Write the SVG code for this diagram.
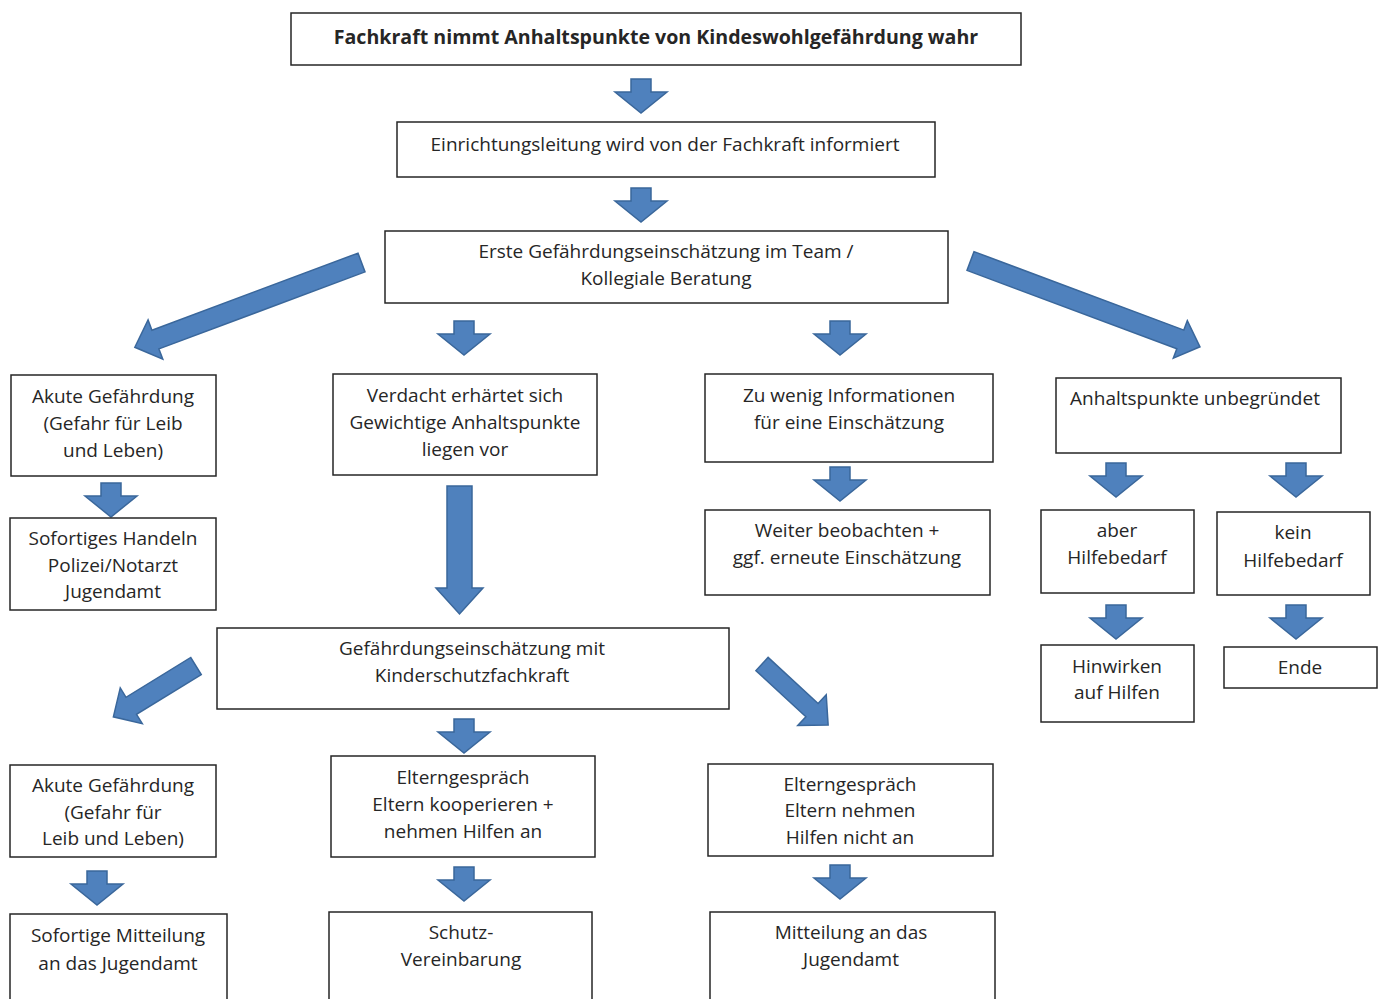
<svg xmlns="http://www.w3.org/2000/svg" width="1386" height="999" viewBox="0 0 1386 999">
<style>
.box{fill:#fff;stroke:#262626;stroke-width:1.5}
.t{font-family:"Open Sans",Lato,sans-serif;font-size:19px;fill:#262626;text-anchor:middle}
.b{font-weight:bold;font-size:19.6px}
.arr{fill:#4F81BD;stroke:#3A679B;stroke-width:1.5;stroke-linejoin:miter}
</style>
<rect width="1386" height="999" fill="#fff"/>
<g id="connectors">
<polygon class="arr" points="631,79 651,79 651,92 667,92 641,113 615,92 631,92"/>
<polygon class="arr" points="631,188 651,188 651,201 667,201 641,222 615,201 631,201"/>
<polygon class="arr" transform="translate(361.5,262.5) rotate(159.5)" points="0,-10 220,-10 220,-21 242,0 220,21 220,10 0,10"/>
<polygon class="arr" transform="translate(970.5,261) rotate(20.5)" points="0,-10 224,-10 224,-20 245,0 224,20 224,10 0,10"/>
<polygon class="arr" points="454,321 474,321 474,334 490,334 464,355 438,334 454,334"/>
<polygon class="arr" points="830,321 850,321 850,334 866,334 840,355 814,334 830,334"/>
<polygon class="arr" points="101,483 121,483 121,496 137,496 111,517 85,496 101,496"/>
<polygon class="arr" points="830,467 850,467 850,480 866,480 840,501 814,480 830,480"/>
<polygon class="arr" points="1106,463 1126,463 1126,476 1142,476 1116,497 1090,476 1106,476"/>
<polygon class="arr" points="1286,463 1306,463 1306,476 1322,476 1296,497 1270,476 1286,476"/>
<polygon class="arr" points="1106,605 1126,605 1126,618 1142,618 1116,639 1090,618 1106,618"/>
<polygon class="arr" points="1286,605 1306,605 1306,618 1322,618 1296,639 1270,618 1286,618"/>
<polygon class="arr" points="447,486 472,486 472,588 483,588 459.5,614 436,588 447,588"/>
<polygon class="arr" transform="translate(196,666) rotate(148.4)" points="0,-10 76,-10 76,-21 97,0 76,21 76,10 0,10"/>
<polygon class="arr" transform="translate(762,664) rotate(42.7)" points="0,-9 68,-9 68,-21 90,0 68,21 68,9 0,9"/>
<polygon class="arr" points="454,719 474,719 474,732 490,732 464,753 438,732 454,732"/>
<polygon class="arr" points="87,871 107,871 107,884 123,884 97,905 71,884 87,884"/>
<polygon class="arr" points="454,867 474,867 474,880 490,880 464,901 438,880 454,880"/>
<polygon class="arr" points="830,865 850,865 850,878 866,878 840,899 814,878 830,878"/>
</g>
<g id="n1"><rect class="box" x="291" y="13" width="730" height="52"/><text class="t b" x="656" y="44">Fachkraft nimmt Anhaltspunkte von Kindeswohlgefährdung wahr</text></g>
<g id="n2"><rect class="box" x="397" y="122" width="538" height="55"/><text class="t" x="665" y="151">Einrichtungsleitung wird von der Fachkraft informiert</text></g>
<g id="n3"><rect class="box" x="385" y="231" width="563" height="72"/><text class="t" x="666" y="258">Erste Gefährdungseinschätzung im Team /</text><text class="t" x="666" y="285">Kollegiale Beratung</text></g>
<g id="n4"><rect class="box" x="11" y="375" width="205" height="101"/><text class="t" x="113" y="403">Akute Gefährdung</text><text class="t" x="113" y="430">(Gefahr für Leib</text><text class="t" x="113" y="457">und Leben)</text></g>
<g id="n5"><rect class="box" x="333" y="374" width="264" height="101"/><text class="t" x="465" y="402">Verdacht erhärtet sich</text><text class="t" x="465" y="429">Gewichtige Anhaltspunkte</text><text class="t" x="465" y="456">liegen vor</text></g>
<g id="n6"><rect class="box" x="705" y="374" width="288" height="88"/><text class="t" x="849" y="402">Zu wenig Informationen</text><text class="t" x="849" y="429">für eine Einschätzung</text></g>
<g id="n7"><rect class="box" x="1056" y="378" width="285" height="75"/><text class="t" x="1195" y="405">Anhaltspunkte unbegründet</text></g>
<g id="n8"><rect class="box" x="10" y="518" width="206" height="92"/><text class="t" x="113" y="545">Sofortiges Handeln</text><text class="t" x="113" y="572">Polizei/Notarzt</text><text class="t" x="113" y="598">Jugendamt</text></g>
<g id="n9"><rect class="box" x="705" y="510" width="285" height="85"/><text class="t" x="847" y="537">Weiter beobachten +</text><text class="t" x="847" y="564">ggf. erneute Einschätzung</text></g>
<g id="n10"><rect class="box" x="1041" y="510" width="153" height="83"/><text class="t" x="1117" y="537">aber</text><text class="t" x="1117" y="564">Hilfebedarf</text></g>
<g id="n11"><rect class="box" x="1217" y="512" width="153" height="83"/><text class="t" x="1293" y="539">kein</text><text class="t" x="1293" y="567">Hilfebedarf</text></g>
<g id="n12"><rect class="box" x="1041" y="645" width="153" height="77"/><text class="t" x="1117" y="673">Hinwirken</text><text class="t" x="1117" y="699">auf Hilfen</text></g>
<g id="n13"><rect class="box" x="1224" y="647" width="153" height="41"/><text class="t" x="1300" y="674">Ende</text></g>
<g id="n14"><rect class="box" x="217" y="628" width="512" height="81"/><text class="t" x="472" y="655">Gefährdungseinschätzung mit</text><text class="t" x="472" y="682">Kinderschutzfachkraft</text></g>
<g id="n15"><rect class="box" x="10" y="765" width="206" height="92"/><text class="t" x="113" y="792">Akute Gefährdung</text><text class="t" x="113" y="819">(Gefahr für</text><text class="t" x="113" y="845">Leib und Leben)</text></g>
<g id="n16"><rect class="box" x="331" y="756" width="264" height="101"/><text class="t" x="463" y="784">Elterngespräch</text><text class="t" x="463" y="811">Eltern kooperieren +</text><text class="t" x="463" y="838">nehmen Hilfen an</text></g>
<g id="n17"><rect class="box" x="708" y="764" width="285" height="92"/><text class="t" x="850" y="791">Elterngespräch</text><text class="t" x="850" y="817">Eltern nehmen</text><text class="t" x="850" y="844">Hilfen nicht an</text></g>
<g id="n18"><rect class="box" x="10" y="914" width="217" height="90"/><text class="t" x="118" y="942">Sofortige Mitteilung</text><text class="t" x="118" y="970">an das Jugendamt</text></g>
<g id="n19"><rect class="box" x="329" y="912" width="263" height="92"/><text class="t" x="461" y="939">Schutz-</text><text class="t" x="461" y="966">Vereinbarung</text></g>
<g id="n20"><rect class="box" x="710" y="912" width="285" height="92"/><text class="t" x="851" y="939">Mitteilung an das</text><text class="t" x="851" y="966">Jugendamt</text></g>
</svg>
